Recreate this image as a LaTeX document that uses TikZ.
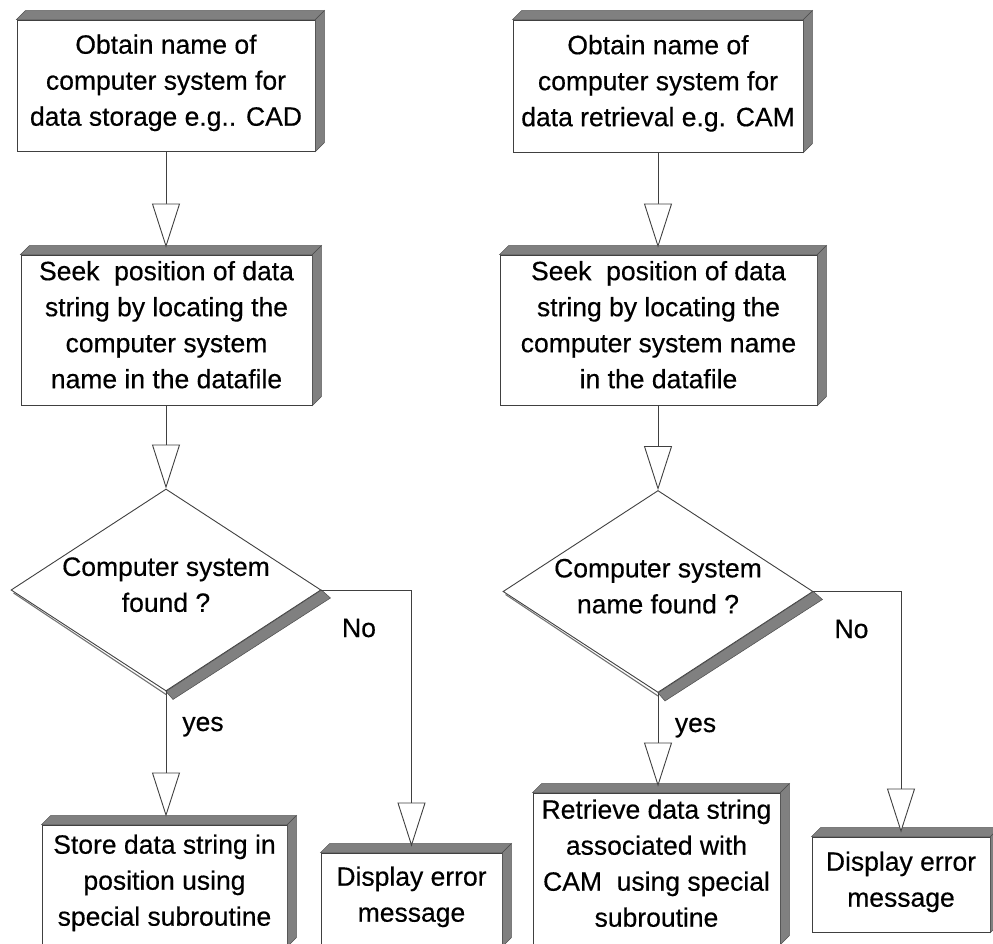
\documentclass[tikz,border=0pt]{standalone}
\usepackage{fontspec}
\setmainfont{Liberation Sans}[FakeBold=0.4]
\usetikzlibrary{arrows.meta,shapes.geometric,calc}

% raised (extruded) top and right sides of a process box
\newcommand\raisedsides[1]{%
  \path[band] (#1.north west) -- ++(9,-9) -- ($(#1.north east)+(9,-9)$) -- (#1.north east) -- cycle;
  \path[band] (#1.north east) -- ++(9,-9) -- ($(#1.south east)+(9,-9)$) -- (#1.south east) -- cycle;}

\begin{document}
\begin{tikzpicture}[x=1pt,y=-1pt,
  ink/.style={draw=black!75, line width=0.9pt},
  txt/.style={font=\fontsize{26.5}{36}\selectfont, align=center, text=black,
              execute at begin node=\strut, execute at end node=\strut},
  stepbox/.style={rectangle, ink, fill=white, inner sep=0pt, txt},
  decision/.style={diamond, ink, fill=white, inner sep=0pt,
                   minimum width=310pt, minimum height=202pt},
  band/.style={fill=black!50, draw=black!70, line width=0.5pt},
  flow/.style={ink, -{Triangle[open, fill=white, length=44pt, width=28pt]}},
  tag/.style={font=\fontsize{26.5}{36}\selectfont, text=black, inner sep=0pt, anchor=base}
]
\useasboundingbox (0,0) rectangle (993,944);
\clip (0,0) rectangle (993,944);

% ---------- storage branch ----------
\node[stepbox, minimum width=298pt, minimum height=131pt] (L1) at (166,85.5)
  {Obtain name of\\computer system for\\data storage e.g.. CAD};
\node[stepbox, minimum width=291pt, minimum height=150pt] (L2) at (166.5,330)
  {Seek\ \ position of data\\string by locating the\\computer system\\name in the datafile};
\node[decision, label={[txt]center:{Computer system\\found ?}}] (LD) at (166,590) {};
\node[stepbox, minimum width=245pt, minimum height=121pt] (L3) at (164.5,885.5)
  {Store data string in\\position using\\special subroutine};
\node[stepbox, minimum width=181pt, minimum height=93pt] (L4) at (411.5,899.5)
  {Display error\\message};

% ---------- retrieval branch ----------
\node[stepbox, minimum width=290pt, minimum height=132pt] (R1) at (658,86)
  {Obtain name of\\computer system for\\data retrieval e.g. CAM};
\node[stepbox, minimum width=317pt, minimum height=150pt] (R2) at (658.5,330)
  {Seek\ \ position of data\\string by locating the\\computer system name\\in the datafile};
\node[decision, label={[txt]center:{Computer system\\name found ?}}] (RD) at (658,591.5) {};
\node[stepbox, minimum width=247pt, minimum height=151pt] (R3) at (656.5,868.5)
  {Retrieve data string\\associated with\\CAM\ \ using special\\subroutine};
\node[stepbox, minimum width=178pt, minimum height=95pt] (R4) at (901,884.5)
  {Display error\\message};

% raised sides of the boxes
\foreach \n in {L1,L2,L3,L4,R1,R2,R3,R4} {\raisedsides{\n}}

% shaded lower edges of the decisions
\foreach \d in {LD,RD} {
  \path[band] (\d.east) -- (\d.south) -- ($(\d.south)+(7,8)$) -- ($(\d.east)+(9,8)$) -- cycle;
  \draw[black!55, line width=1.1pt] ($(\d.west)+(3,3)$) -- ($(\d.south)+(0,3)$);
}

% ---------- connectors ----------
\draw[flow, shorten >=7pt] (L1.south) -- (L1.south |- L2.north);
\draw[flow] (LD.north |- L2.south) -- (LD.north);
\draw[flow, shorten >=8pt] (LD.south) -- (LD.south |- L3.north);
\draw[flow, shorten >=6pt] (LD.east) -| (L4.north);

\draw[flow, shorten >=7pt] (R1.south) -- (R1.south |- R2.north);
\draw[flow] (RD.north |- R2.south) -- (RD.north);
\draw[flow, shorten >=6pt] (RD.south) -- (RD.south |- R3.north);
\draw[flow, shorten >=4pt] (RD.east) -| (R4.north);

% branch labels
\node[tag] (noL)  at (359,637)   {No};
\node[tag] (yesL) at (203,731)   {yes};
\node[tag] (noR)  at (851.5,638) {No};
\node[tag] (yesR) at (695.5,732) {yes};
\end{tikzpicture}
\end{document}
